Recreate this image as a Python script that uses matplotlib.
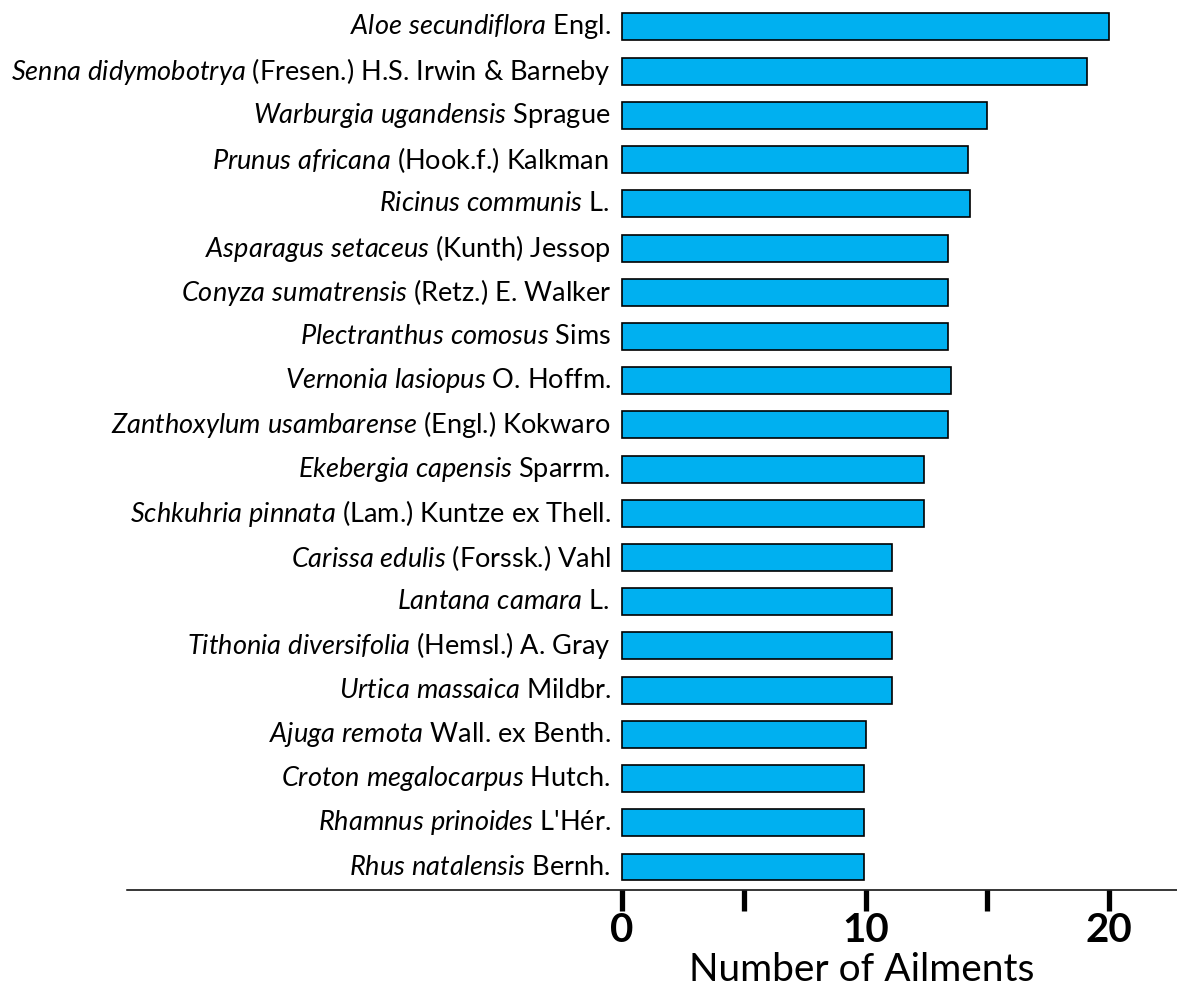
import numpy as np
import matplotlib
matplotlib.use("Agg")
import matplotlib.pyplot as plt

plt.rcParams['font.family'] = ['Lato', 'DejaVu Sans']
plt.rcParams['mathtext.fontset'] = 'custom'
plt.rcParams['mathtext.rm'] = 'Lato'
plt.rcParams['mathtext.it'] = 'Lato:italic'

species = ["Aloe secundiflora", "Senna didymobotrya", "Warburgia ugandensis",
           "Prunus africana", "Ricinus communis", "Asparagus setaceus",
           "Conyza sumatrensis", "Plectranthus comosus", "Vernonia lasiopus",
           "Zanthoxylum usambarense", "Ekebergia capensis", "Schkuhria pinnata",
           "Carissa edulis", "Lantana camara", "Tithonia diversifolia",
           "Urtica massaica", "Ajuga remota", "Croton megalocarpus",
           "Rhamnus prinoides", "Rhus natalensis"]
authors = ["Engl.", "(Fresen.) H.S. Irwin & Barneby", "Sprague",
           "(Hook.f.) Kalkman ", "L. ", "(Kunth) Jessop",
           "(Retz.) E. Walker", "Sims", "O. Hoffm.",
           "(Engl.) Kokwaro", "Sparrm.", "(Lam.) Kuntze ex Thell.",
           "(Forssk.) Vahl", "L. ", "(Hemsl.) A. Gray",
           "Mildbr.", "Wall. ex Benth.", "Hutch.",
           "L'Hér.", "Bernh."]
ailments = [20.0, 19.1, 15.0, 14.2, 14.3, 13.4, 13.4, 13.4, 13.5, 13.4,
            12.4, 12.4, 11.1, 11.1, 11.1, 11.1, 10.0, 9.95, 9.95, 9.95]

W, H = 1177, 989
fig = plt.figure(figsize=(W / 100, H / 100), dpi=100)
ax = fig.add_axes([127 / W, 1 - 890 / H, 1050 / W, 890 / H])

n = len(species)
ypos = np.arange(n)[::-1]
ax.barh(ypos, ailments, height=0.61, color='#00B0F0', edgecolor='black', linewidth=1.2)

px_per_unit = (1109 - 622) / 20
ax.set_xlim(-(622 - 127) / px_per_unit, (1177 - 622) / px_per_unit)
ax.set_ylim(-0.52, n - 1 + 0.61)

for y, sp, au in zip(ypos, species, authors):
    label = "$\\mathit{" + sp.replace(" ", "\\ ") + "}$ " + au
    ax.annotate(label, xy=(0, y), xytext=(-8, 0), textcoords='offset points',
                ha='right', va='center', fontsize=19.5)

for s in ['top', 'right', 'left']:
    ax.spines[s].set_visible(False)
ax.spines['bottom'].set_linewidth(1.1)
ax.set_yticks([])
ax.set_xticks([0, 5, 10, 15, 20])
ax.set_xticklabels(["0", "", "10", "", "20"], fontsize=29, fontweight='bold')
ax.tick_params(axis='x', direction='out', length=15, width=3.8, pad=1)

ax.set_xlabel("Number of Ailments", fontsize=28, va='bottom')
ax.xaxis.set_label_coords((862 - 127) / 1050, -(889 - 890) / 890 - 0.111)

fig.savefig("out.png", dpi=100)
